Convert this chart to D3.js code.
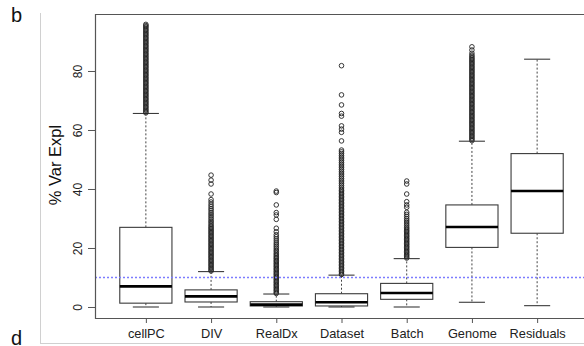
<!DOCTYPE html>
<html>
<head>
<meta charset="utf-8">
<script src="https://cdn.jsdelivr.net/npm/d3@7"></script>
<style>
  html, body { margin: 0; padding: 0; background: #fff; }
  svg { display: block; font-family: "Liberation Sans", Arial, sans-serif; }
</style>
</head>
<body>
<svg id="chart" width="584" height="346"></svg>
<script>
// Variance partition: % variance explained per component
const categories = ["cellPC", "DIV", "RealDx", "Dataset", "Batch", "Genome", "Residuals"];

// Box statistics per component
const whiskerLow  = [0.0, 0.0, 0.0, 0.0, 0.0, 1.6, 0.45];
const quart1      = [1.3, 1.7, 0.35, 0.35, 2.6, 20.2, 25.0];
const medians     = [7.0, 3.6, 0.8, 1.6, 4.75, 27.1, 39.3];
const quart3      = [27.0, 5.8, 1.8, 4.5, 8.0, 34.6, 52.0];
const whiskerHigh = [65.6, 12.0, 4.4, 10.8, 16.4, 56.2, 84.0];

// Outlying genes per component
const outCellPC = [65.8,66.2,66.7,67.1,67.6,68.0,68.5,68.9,69.4,69.8,70.3,70.7,71.2,71.6,72.1,72.5,73.0,73.4,73.9,74.3,74.8,75.2,75.7,76.1,76.6,77.0,77.5,77.9,78.4,78.8,79.3,79.7,80.2,80.6,81.1,81.5,82.0,82.4,82.9,83.3,83.8,84.2,84.7,85.1,85.6,86.0,86.5,86.9,87.4,87.8,88.3,88.7,89.2,89.6,90.1,90.5,91.0,91.4,91.9,92.3,92.8,93.2,93.7,94.1,94.6,95.0,95.4,95.8];
const outDIV = [12.2,12.6,13.1,13.5,14.0,14.4,14.9,15.3,15.8,16.2,16.7,17.1,17.6,18.0,18.5,18.9,19.4,19.8,20.3,20.7,21.2,21.6,22.1,22.5,23.0,23.4,23.9,24.3,24.8,25.2,25.7,26.1,26.6,27.0,27.5,28.0,28.6,29.1,29.7,30.3,30.9,31.5,32.1,32.8,33.4,34.1,34.8,35.6,36.4,38.3,41.7,43.0,44.7];
const outRealDx = [4.6,5.0,5.5,5.9,6.4,6.8,7.3,7.7,8.2,8.6,9.1,9.5,10.0,10.4,10.9,11.3,11.8,12.2,12.7,13.1,13.6,14.0,14.5,14.9,15.4,15.8,16.3,16.7,17.2,17.7,18.2,18.8,19.3,19.9,20.5,21.1,21.7,22.4,23.1,23.8,24.5,25.5,26.7,29.7,31.2,32.0,34.6,38.8,39.3];
const outDataset = [11.0,11.5,12.0,12.5,13.0,13.5,14.0,14.5,15.0,15.5,16.0,16.5,17.0,17.5,18.0,18.5,19.0,19.5,20.0,20.5,21.0,21.5,22.0,22.5,23.0,23.5,24.0,24.5,25.0,25.5,26.0,26.5,27.0,27.5,28.0,28.5,29.0,29.5,30.0,30.5,31.0,31.5,32.0,32.5,33.0,33.5,34.0,34.5,35.0,35.5,36.0,36.5,37.0,37.5,38.0,38.5,39.0,39.5,40.0,40.6,41.2,41.8,42.4,43.0,43.6,44.2,44.8,45.4,46.0,46.6,47.2,47.8,48.4,49.0,49.6,50.2,50.8,51.4,52.0,52.6,53.2,56.3,59.2,60.3,61.4,64.7,65.6,68.5,71.9,81.8];
const outBatch = [16.6,17.0,17.5,17.9,18.4,18.8,19.3,19.7,20.2,20.6,21.1,21.5,22.0,22.4,22.9,23.3,23.8,24.2,24.7,25.1,25.6,26.0,26.5,27.0,27.6,28.2,28.8,29.4,30.0,30.7,31.4,32.1,33.8,34.6,35.7,38.3,41.7,42.7];
const outGenome = [56.4,56.9,57.3,57.8,58.2,58.7,59.1,59.6,60.0,60.5,60.9,61.4,61.8,62.3,62.7,63.2,63.6,64.1,64.5,65.0,65.4,65.9,66.3,66.8,67.2,67.7,68.1,68.6,69.0,69.5,69.9,70.4,70.8,71.3,71.7,72.2,72.6,73.1,73.5,74.0,74.4,74.9,75.3,75.8,76.2,76.7,77.1,77.6,78.0,78.5,78.9,79.4,79.8,80.3,80.7,81.2,81.6,82.1,82.5,83.0,83.4,83.9,84.3,84.8,85.3,86.0,87.1,88.2];
const outResiduals = [];
const outliers = [outCellPC, outDIV, outRealDx, outDataset, outBatch, outGenome, outResiduals];

const yTicks = [0, 20, 40, 60, 80];
const threshold = 10;

const svg = d3.select("#chart");
const W = 584, H = 346;
const plot = { left: 95, top: 14, right: 588, bottom: 318 };

const x = d3.scaleLinear().domain([0.22, 7.78]).range([plot.left, plot.right]);
const y = d3.scaleLinear().domain([-3.73, 99.32]).range([plot.bottom, plot.top]);
const unit = x(2) - x(1);
const boxW = 0.8 * unit, capW = 0.4 * unit;

// panel border lines
svg.append("line").attr("x1", 40.5).attr("x2", 40.5).attr("y1", 13).attr("y2", 343)
  .attr("stroke", "#d0d0d0").attr("stroke-width", 1);
svg.append("line").attr("x1", 40).attr("x2", W).attr("y1", 343.5).attr("y2", 343.5)
  .attr("stroke", "#d0d0d0").attr("stroke-width", 1);

// panel letters
svg.append("text").attr("x", 11).attr("y", 22).attr("font-size", 20).attr("fill", "#111").text("b");
svg.append("text").attr("x", 11).attr("y", 345).attr("font-size", 20).attr("fill", "#111").text("d");

const g = svg.append("g");

const boxes = g.selectAll("g.box").data(categories).join("g").attr("class", "box");

boxes.each(function (c, i) {
  const b = d3.select(this);
  const cx = x(i + 1);
  const stroke = "#3a3a3a";
  // whiskers
  b.append("line").attr("x1", cx).attr("x2", cx).attr("y1", y(quart3[i])).attr("y2", y(whiskerHigh[i]))
    .attr("stroke", "#444").attr("stroke-width", 1).attr("stroke-dasharray", "2,2");
  b.append("line").attr("x1", cx).attr("x2", cx).attr("y1", y(quart1[i])).attr("y2", y(whiskerLow[i]))
    .attr("stroke", "#444").attr("stroke-width", 1).attr("stroke-dasharray", "2,2");
  // caps
  [whiskerLow[i], whiskerHigh[i]].forEach(v => {
    b.append("line").attr("x1", cx - capW / 2).attr("x2", cx + capW / 2).attr("y1", y(v)).attr("y2", y(v))
      .attr("stroke", stroke).attr("stroke-width", 1.1);
  });
  // box
  b.append("rect").attr("x", cx - boxW / 2).attr("width", boxW)
    .attr("y", y(quart3[i])).attr("height", y(quart1[i]) - y(quart3[i]))
    .attr("fill", "#fff").attr("stroke", stroke).attr("stroke-width", 1.1);
  // median
  b.append("line").attr("x1", cx - boxW / 2).attr("x2", cx + boxW / 2)
    .attr("y1", y(medians[i])).attr("y2", y(medians[i]))
    .attr("stroke", "#000").attr("stroke-width", 2.6);
  // outliers
  b.selectAll("circle").data(outliers[i]).join("circle")
    .attr("cx", cx).attr("cy", d => y(d)).attr("r", 2.3)
    .attr("fill", "none").attr("stroke", "#222").attr("stroke-width", 0.9);
});

// threshold line, drawn over the boxes
g.append("line")
  .attr("x1", plot.left).attr("x2", W)
  .attr("y1", Math.round(y(threshold)) + 0.5).attr("y2", Math.round(y(threshold)) + 0.5)
  .attr("stroke", "#7c7cff").attr("stroke-width", 1.3).attr("stroke-dasharray", "2,2");

// frame
g.append("path")
  .attr("d", `M${plot.right},${plot.top + 0.5}H${plot.left + 0.5}V${plot.bottom + 0.5}H${plot.right}`)
  .attr("fill", "none").attr("stroke", "#555").attr("stroke-width", 1.2);

// y axis
const yAxis = g.append("g").attr("transform", `translate(${plot.left},0)`)
  .call(d3.axisLeft(y).tickValues(yTicks).tickSize(7).tickPadding(0).tickFormat(d3.format("d")));
yAxis.select(".domain").remove();
yAxis.attr("font-family", null);
yAxis.selectAll(".tick line").attr("stroke", "#555");
yAxis.selectAll(".tick text")
  .attr("font-size", 12).attr("fill", "#222")
  .attr("x", 0).attr("dy", 0)
  .attr("text-anchor", "middle")
  .attr("transform", "translate(-13,0) rotate(-90)");

// x axis
const xAxis = g.append("g").attr("transform", `translate(0,${plot.bottom})`)
  .call(d3.axisBottom(x).tickValues(d3.range(1, categories.length + 1)).tickSize(5).tickPadding(6)
    .tickFormat(d => categories[d - 1]));
xAxis.select(".domain").remove();
xAxis.attr("font-family", null);
xAxis.selectAll(".tick line").attr("stroke", "#555");
xAxis.selectAll(".tick text").attr("font-size", 12.8).attr("fill", "#222");

// y axis title
svg.append("text")
  .attr("transform", `translate(61,165) rotate(-90)`)
  .attr("text-anchor", "middle")
  .attr("font-size", 16.5).attr("fill", "#111")
  .text("% Var Expl");
</script>
</body>
</html>
